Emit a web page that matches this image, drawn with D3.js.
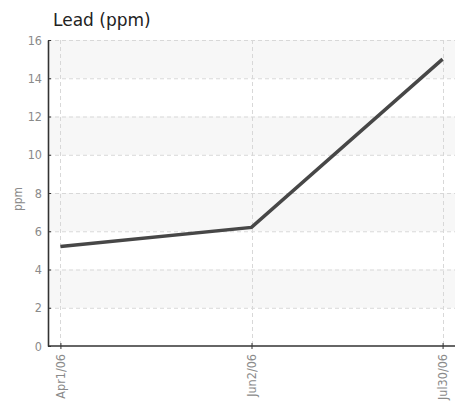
<!DOCTYPE html>
<html>
<head>
<meta charset="utf-8">
<script src="https://cdn.jsdelivr.net/npm/d3@7"></script>
<style>
  body { margin: 0; background: #fff; }
  .tick text { font-family: "DejaVu Sans Condensed", "Liberation Sans Narrow", sans-serif; font-stretch: condensed; font-size: 12.5px; fill: #8a8a8a; }
</style>
</head>
<body>
<svg id="chart" width="461" height="407"></svg>
<script>
// chart data
const dates = ["Apr1/06", "Jun2/06", "Jul30/06"];
const lead = [5.2, 6.2, 15.0];
const yTicks = [0, 2, 4, 6, 8, 10, 12, 14, 16];
const bands = [[2, 4], [6, 8], [10, 12], [14, 16]];

const svg = d3.select("#chart");
const plotL = 48, plotR = 455, plotT = 40, plotB = 346;

const x = d3.scalePoint().domain(dates).range([plotL, plotR]).padding(0.065);
const y = d3.scaleLinear().domain([0, 16]).range([plotB, plotT]);

// alternating bands
svg.append("g").selectAll("rect").data(bands).join("rect")
    .attr("x", plotL).attr("width", plotR - plotL)
    .attr("y", d => y(d[1])).attr("height", d => y(d[0]) - y(d[1]))
    .attr("fill", "#f7f7f7");

// grid
const grid = svg.append("g").attr("stroke", "#d8d8d8").attr("stroke-dasharray", "4,3");
grid.selectAll("line.h").data(yTicks.filter(d => d > 0)).join("line")
    .attr("class", "h")
    .attr("x1", plotL).attr("x2", plotR)
    .attr("y1", d => y(d) + 0.5).attr("y2", d => y(d) + 0.5);
grid.selectAll("line.v").data(dates).join("line")
    .attr("class", "v")
    .attr("x1", d => Math.round(x(d)) + 0.5).attr("x2", d => Math.round(x(d)) + 0.5)
    .attr("y1", plotT).attr("y2", plotB);

// axes
const yAxis = svg.append("g")
    .attr("transform", `translate(${plotL},0)`)
    .call(d3.axisLeft(y).tickValues(yTicks).tickSizeInner(3).tickSizeOuter(0).tickPadding(3));
yAxis.selectAll(".tick line").attr("x2", 3).attr("stroke", "#333");
yAxis.select(".domain").attr("stroke", "#333").attr("stroke-width", 1.6);

const xAxis = svg.append("g")
    .attr("transform", `translate(0,${plotB})`)
    .call(d3.axisBottom(x).tickSizeInner(3).tickSizeOuter(0).tickPadding(4));
xAxis.selectAll(".tick line").attr("y1", -3).attr("stroke", "#333");
xAxis.select(".domain").attr("stroke", "#333").attr("stroke-width", 1.6).attr("d", `M${plotL},0H${plotR}`);
xAxis.selectAll(".tick text")
    .attr("transform", "rotate(-90)")
    .attr("text-anchor", "end")
    .attr("dy", "0.35em")
    .attr("x", -8).attr("y", 0);

// line
svg.append("path")
    .datum(lead)
    .attr("fill", "none")
    .attr("stroke", "#474747")
    .attr("stroke-width", 3.5)
    .attr("d", d3.line().x((d, i) => x(dates[i])).y(d => y(d)));

// y label
svg.append("text")
    .attr("transform", `translate(22,${(plotT + plotB) / 2 + 6}) rotate(-90)`)
    .attr("text-anchor", "middle")
    .attr("font-family", "DejaVu Sans Condensed, sans-serif")
    .attr("font-size", 12).attr("fill", "#8a8a8a")
    .text("ppm");

// title
svg.append("text")
    .attr("x", 53).attr("y", 26)
    .attr("font-family", "DejaVu Sans, sans-serif")
    .attr("font-size", 17).attr("fill", "#222")
    .text("Lead (ppm)");
</script>
</body>
</html>
